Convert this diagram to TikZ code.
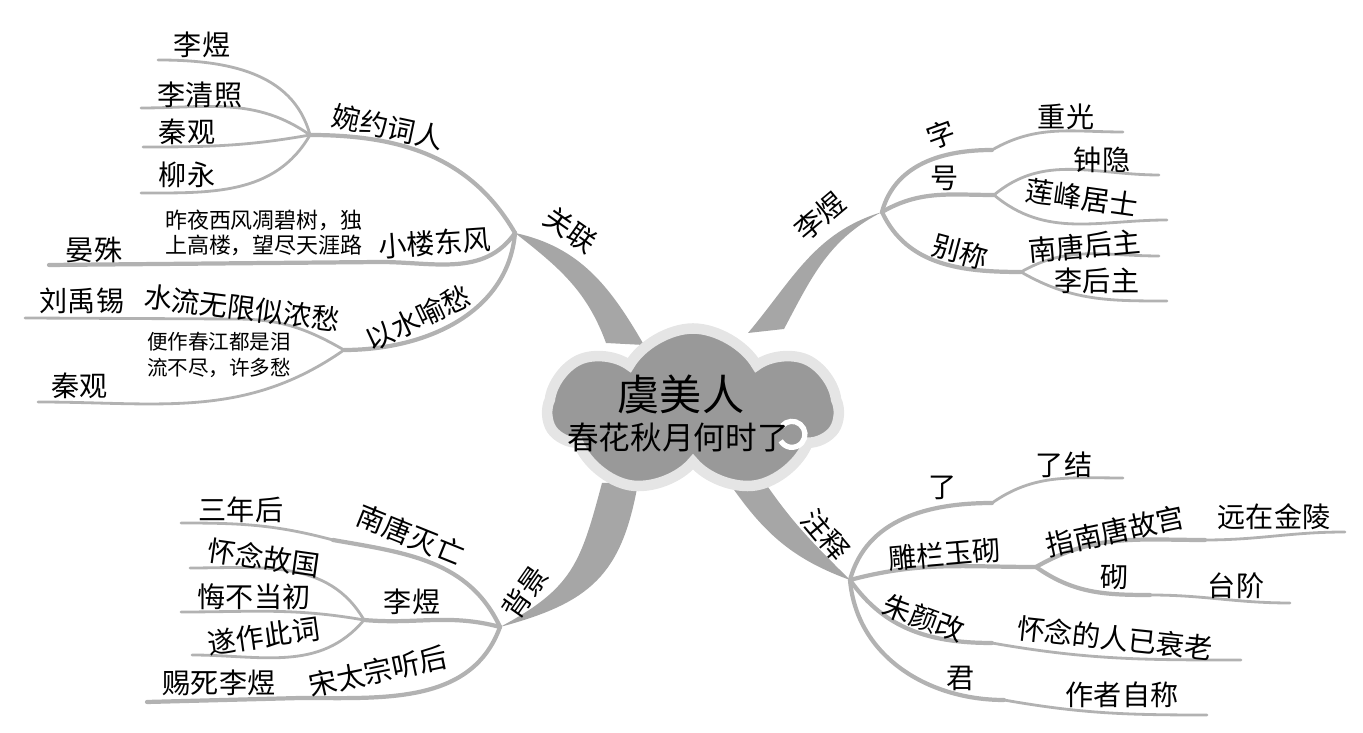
\documentclass[tikz,border=0pt]{standalone}
\usepackage{fontspec}
\newfontfamily\cjk{Noto Sans CJK SC}
\usetikzlibrary{shapes.symbols}

\begin{document}
\begin{tikzpicture}[x=0.02cm, y=0.02cm,
	trunk/.style={fill=gray!70},
	twig/.style={draw=gray!60, line width=2.4pt, line cap=round},
	leaf/.style={draw=gray!60, line width=1.6pt, line cap=round},
	word/.style={font=\cjk\fontsize{16}{18}\selectfont, inner sep=1pt},
	note/.style={font=\cjk\fontsize{12.5}{14.5}\selectfont, align=left, inner sep=1pt, anchor=west}]
	\useasboundingbox (0,0) rectangle (1363,733);

	% hubs of the four main branches
	\coordinate (gHub) at (515,500);
	\coordinate (lHub) at (882,521);
	\coordinate (bHub) at (500,106);
	\coordinate (zHub) at (850,153);
	\coordinate (gBaseA) at (606,390);
	\coordinate (gBaseB) at (644,388);
	\coordinate (lBaseA) at (748,400);
	\coordinate (lBaseB) at (784,404);
	\coordinate (bBaseA) at (602,250);
	\coordinate (bBaseB) at (638,250);
	\coordinate (zBaseA) at (732,246);
	\coordinate (zBaseB) at (768,246);

	% tapered trunks, under the cloud
	\fill[trunk] (gHub) to[out=-38,in=110] (gBaseA) -- (gBaseB) to[out=120,in=-12] (gHub);
	\fill[trunk] (lBaseA) to[out=50,in=-163] (lHub) to[out=-153,in=62] (lBaseB) -- cycle;
	\fill[trunk] (bHub) to[out=28,in=-105,looseness=1.2] (bBaseA) -- (bBaseB)
		to[out=-100,in=15,looseness=1.2] (bHub);
	\fill[trunk] (zHub) to[out=160,in=-55] (zBaseA) -- (zBaseB) to[out=-55,in=135] (zHub);

	% centre
	\node[cloud, cloud puffs=7, cloud puff arc=120, aspect=1.7, fill=gray!80, draw=gray!20,
		line width=6pt, minimum width=5.8cm, minimum height=3.3cm] (root) at (693,322) {};
	\draw[white, line width=3pt] (782,307) arc[start angle=140, end angle=-150, radius=13];
	\node[font=\cjk\fontsize{24}{26}\selectfont] (title) at (681,339) {虞美人};
	\node[font=\cjk\fontsize{18}{20}\selectfont] (verse) at (678,295) {春花秋月何时了};

	% trunk labels
	\node[word, rotate=-35] (gLab) at (571,503) {关联};
	\node[word, rotate=40] (lLab) at (820,517) {李煜};
	\node[word, rotate=55] (bLab) at (525,141) {背景};
	\node[word, rotate=-50] (zLab) at (826,198) {注释};

	% 关联
	\coordinate (wyHub) at (310,598);
	\draw[twig] (gHub) to[out=120,in=0] (wyHub);
	\node[word, rotate=-12] (wy) at (388,606) {婉约词人};
	\coordinate (wy1) at (158,673);
	\coordinate (wy2) at (141,625);
	\coordinate (wy3) at (143,586);
	\coordinate (wy4) at (141,540);
	\draw[leaf] (wyHub) to[out=105,in=0] (wy1);
	\draw[leaf] (wyHub) to[out=145,in=0] (wy2);
	\draw[leaf] (wyHub) to[out=-170,in=0] (wy3);
	\draw[leaf] (wyHub) to[out=-120,in=0] (wy4);
	\node[word] (wy1t) at (202,688) {李煜};
	\node[word] (wy2t) at (200,638) {李清照};
	\node[word] (wy3t) at (187,601) {秦观};
	\node[word] (wy4t) at (187,558) {柳永};

	\coordinate (xlHub) at (380,471);
	\coordinate (xl1) at (49,468);
	\draw[twig] (gHub) to[out=-125,in=0] (xlHub) -- (xl1);
	\node[word, rotate=4] (xl) at (435,490) {小楼东风};
	\node[note] (xlNote) at (163,500) {昨夜西风凋碧树，独\\上高楼，望尽天涯路};
	\node[word] (xl1t) at (94,483) {晏殊};

	\coordinate (ysHub) at (344,383);
	\draw[twig] (gHub) to[out=-95,in=0] (ysHub);
	\node[word, rotate=25] (ys) at (418,415) {以水喻愁};
	\coordinate (lsHub) at (235,414);
	\coordinate (ys1) at (25,415);
	\coordinate (ys2) at (38,331);
	\draw[leaf] (ysHub) to[out=150,in=0] (lsHub) -- (ys1);
	\draw[leaf] (ysHub) to[out=-145,in=0] (ys2);
	\node[word, rotate=-7] (ls) at (242,425) {水流无限似浓愁};
	\node[word] (ys1t) at (82,432) {刘禹锡};
	\node[word] (ys2t) at (80,347) {秦观};
	\node[note, font=\cjk\fontsize{11.7}{14.5}\selectfont] (ysNote) at (145,378) {便作春江都是泪\\流不尽，许多愁};

	% 李煜
	\coordinate (ziHub) at (992,583);
	\coordinate (haoHub) at (994,538);
	\coordinate (bcHub) at (1021,461);
	\draw[twig] (lHub) to[out=75,in=180] (ziHub);
	\draw[twig] (lHub) to[out=30,in=180] (haoHub);
	\draw[twig] (lHub) to[out=-65,in=180] (bcHub);
	\node[word, rotate=20] (zi) at (941,598) {字};
	\node[word] (hao) at (945,555) {号};
	\node[word, rotate=-15] (bc) at (960,481) {别称};
	\coordinate (zi1) at (1123,601);
	\coordinate (hao1) at (1159,558);
	\coordinate (hao2) at (1167,513);
	\coordinate (bc1) at (1159,477);
	\coordinate (bc2) at (1167,432);
	\draw[leaf] (ziHub) to[out=30,in=180] (zi1);
	\draw[leaf] (haoHub) to[out=40,in=180] (hao1);
	\draw[leaf] (haoHub) to[out=-40,in=180] (hao2);
	\draw[leaf] (bcHub) to[out=30,in=180] (bc1);
	\draw[leaf] (bcHub) to[out=-30,in=180] (bc2);
	\node[word] (zi1t) at (1066,616) {重光};
	\node[word] (hao1t) at (1102,573) {钟隐};
	\node[word, rotate=-8] (hao2t) at (1082,535) {莲峰居士};
	\node[word, rotate=5] (bc1t) at (1085,487) {南唐后主};
	\node[word] (bc2t) at (1097,452) {李后主};

	% 背景
	\coordinate (ntHub) at (333,193);
	\coordinate (lyHub) at (364,113);
	\coordinate (stHub) at (300,35);
	\coordinate (st1) at (147,31);
	\draw[twig] (bHub) to[out=115,in=-10] (ntHub);
	\draw[twig] (bHub) to[out=165,in=-5] (lyHub);
	\draw[twig] (bHub) to[out=-110,in=0] (stHub) -- (st1);
	\node[word, rotate=-22] (nt) at (411,198) {南唐灭亡};
	\node[word] (ly) at (412,131) {李煜};
	\node[word, rotate=12] (st) at (378,62) {宋太宗听后};
	\node[word] (st1t) at (219,50) {赐死李煜};
	\coordinate (nt1) at (181,210);
	\coordinate (ly1) at (190,165);
	\coordinate (ly2) at (181,121);
	\coordinate (ly3) at (192,78);
	\draw[leaf] (ntHub) to[out=165,in=0] (nt1);
	\draw[leaf] (lyHub) to[out=120,in=0] (ly1);
	\draw[leaf] (lyHub) to[out=170,in=0] (ly2);
	\draw[leaf] (lyHub) to[out=-130,in=0] (ly3);
	\node[word] (nt1t) at (241,223) {三年后};
	\node[word, rotate=-8] (ly1t) at (264,175) {怀念故国};
	\node[word] (ly2t) at (254,136) {悔不当初};
	\node[word, rotate=8] (ly3t) at (264,97) {遂作此词};

	% 注释
	\coordinate (leHub) at (992,230);
	\coordinate (dlHub) at (1036,166);
	\coordinate (zyHub) at (992,90);
	\coordinate (junHub) at (1004,33);
	\draw[twig] (zHub) to[out=75,in=180] (leHub);
	\draw[twig] (zHub) to[out=15,in=180] (dlHub);
	\draw[twig] (zHub) to[out=-55,in=180] (zyHub);
	\draw[twig] (zHub) to[out=-85,in=180] (junHub);
	\node[word] (le) at (943,245) {了};
	\node[word, rotate=5] (dl) at (945,179) {雕栏玉砌};
	\node[word, rotate=-20] (zy) at (924,115) {朱颜改};
	\node[word] (jun) at (961,55) {君};
	\coordinate (le1) at (1123,255);
	\coordinate (zgHub) at (1205,193);
	\coordinate (zg1) at (1345,201);
	\coordinate (qiHub) at (1150,138);
	\coordinate (qi1) at (1290,130);
	\coordinate (zy1) at (1241,73);
	\coordinate (jun1) at (1207,18);
	\draw[leaf] (leHub) to[out=35,in=180] (le1);
	\draw[twig] (dlHub) to[out=30,in=180] (zgHub);
	\draw[leaf] (zgHub) to[out=0,in=180] (zg1);
	\draw[twig] (dlHub) to[out=-35,in=180] (qiHub);
	\draw[leaf] (qiHub) to[out=0,in=180] (qi1);
	\draw[leaf] (zyHub) to[out=-10,in=180] (zy1);
	\draw[leaf] (junHub) to[out=-10,in=180] (jun1);
	\node[word] (le1t) at (1064,268) {了结};
	\node[word, rotate=12] (zg) at (1115,202) {指南唐故宫};
	\node[word] (zg1t) at (1274,216) {远在金陵};
	\node[word] (qi) at (1115,156) {砌};
	\node[word] (qi1t) at (1236,147) {台阶};
	\node[word, rotate=-6] (zy1t) at (1115,95) {怀念的人已衰老};
	\node[word] (jun1t) at (1122,38) {作者自称};
\end{tikzpicture}
\end{document}
